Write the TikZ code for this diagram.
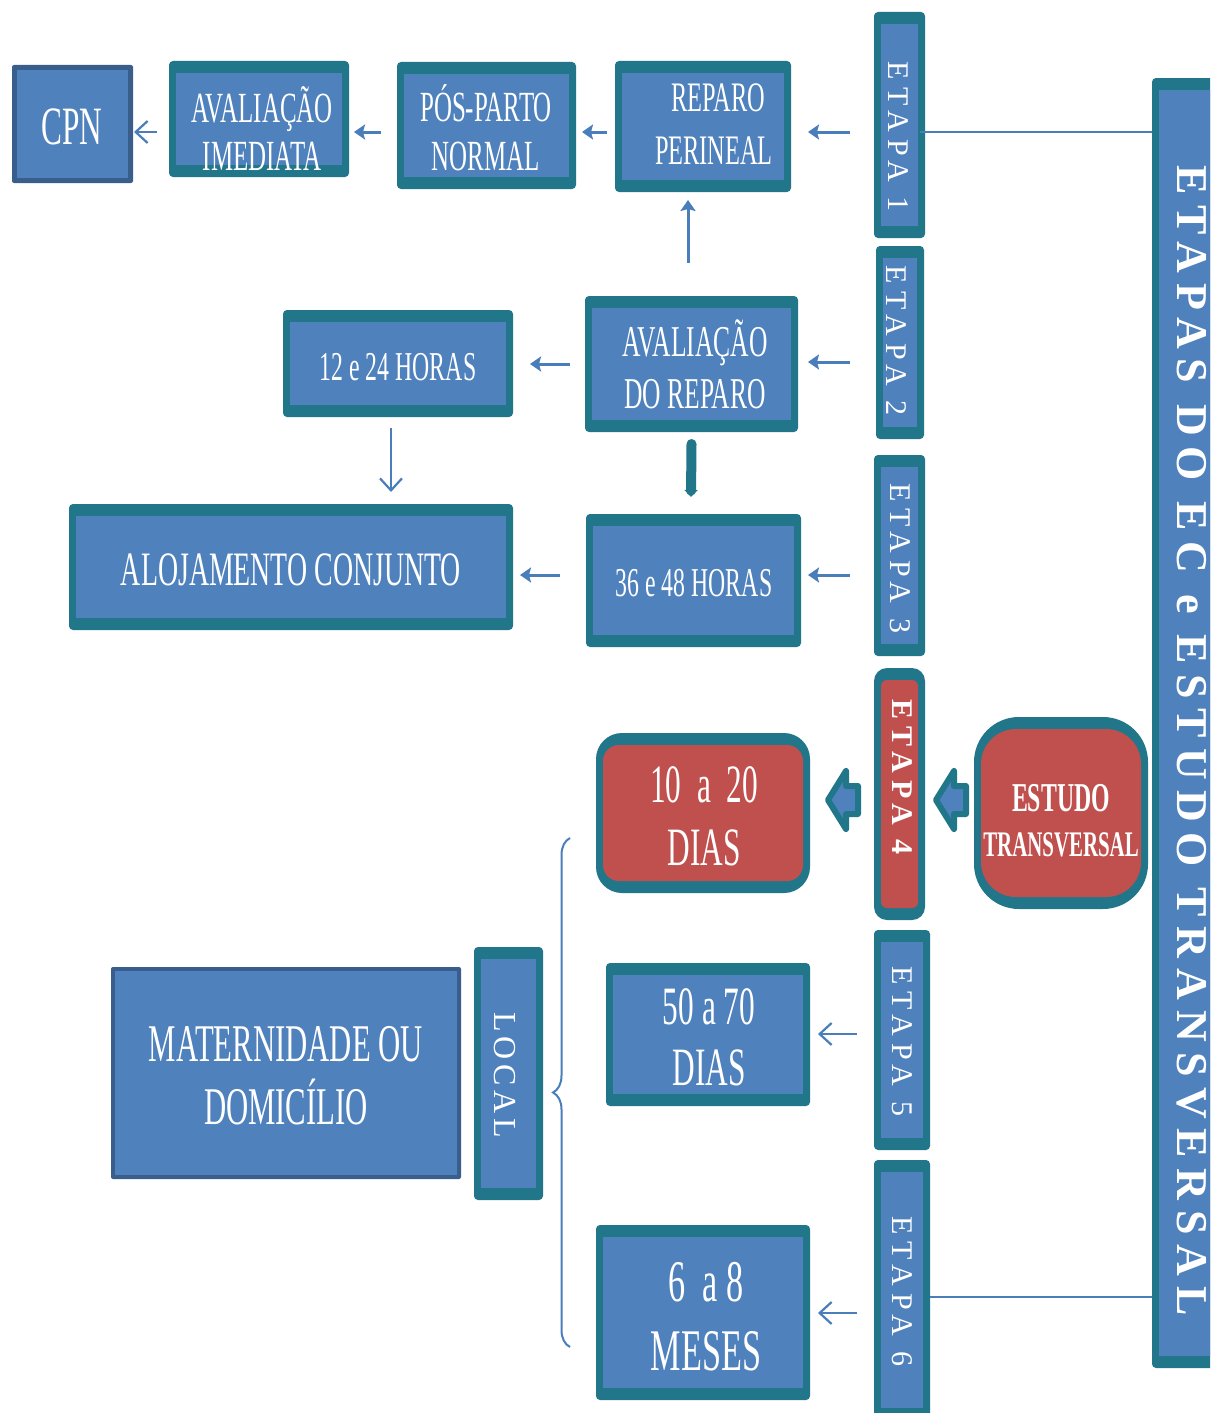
\documentclass[tikz,border=0pt]{standalone}
\usepackage{fontspec}
\setmainfont{Liberation Serif}
\newfontfamily\cond[FakeStretch=0.58]{Liberation Serif}
\newfontfamily\spc[LetterSpace=24]{Liberation Serif}
\newfontfamily\spcb[LetterSpace=23]{Liberation Serif}
\newfontfamily\spcl[LetterSpace=15]{Liberation Serif}
\usetikzlibrary{arrows.meta,calc,decorations.pathreplacing}
\definecolor{boxblue}{HTML}{4F81BD}
\definecolor{tealc}{HTML}{22768A}
\definecolor{redc}{HTML}{C0504D}
\definecolor{darkc}{HTML}{3A5E8C}
\definecolor{arrc}{HTML}{4A7EBB}
\tikzset{
  tbox/.style={fill=tealc, rounded corners=4pt, inner sep=0pt, outer sep=0pt,
    path picture={\fill[boxblue, sharp corners] ([xshift=7pt,yshift=-12pt]path picture bounding box.north west) rectangle ([xshift=-7pt,yshift=12pt]path picture bounding box.south east);}},
  rbox/.style 2 args={fill=tealc, rounded corners=#1pt, inner sep=0pt, outer sep=0pt,
    path picture={\fill[redc, rounded corners=#2pt] ([xshift=7pt,yshift=-12pt]path picture bounding box.north west) rectangle ([xshift=-7pt,yshift=12pt]path picture bounding box.south east);}},
  dbox/.style={fill=darkc, rounded corners=2pt, inner sep=0pt, outer sep=0pt,
    path picture={\fill[boxblue, sharp corners] ([xshift=#1pt,yshift=-#1pt]path picture bounding box.north west) rectangle ([xshift=-#1pt,yshift=#1pt]path picture bounding box.south east);}},
  sz/.style 2 args={minimum width=#1pt, minimum height=#2pt},
  lbl/.style={text=white, align=center, inner sep=0pt},
  etl/.style={lbl, rotate=-90, font=\spc\fontsize{30}{30}\selectfont},
  arr/.style={draw=arrc, line width=3pt, -{Stealth[length=11pt,width=15pt,inset=2pt]}},
  oarr/.style={draw=arrc, line width=2.2pt, -{Straight Barb[length=12pt,width=22pt]}},
  ln/.style={draw=arrc, line width=2pt},
  barr/.style={draw=tealc, fill=boxblue, line width=6pt, line join=round},
}
\begin{document}
\begin{tikzpicture}[x=1pt,y=-1pt]
\useasboundingbox (0,0) rectangle (1210,1413);
\clip (0,0) rectangle (1210,1413);
\fill[white] (0,0) rectangle (1210,1413);

% ---- top row
\node[dbox=5, sz={121}{118}] (cpn) at (72.5,124) {};
\node[lbl, font=\cond\fontsize{54}{54}\selectfont] (cpnt) at (72,127) {CPN};
\node[tbox, sz={180}{116}] (avim) at (259,119) {};
\node[lbl, font=\cond\fontsize{43}{48}\selectfont] (avimt) at (262,129) {AVALIAÇÃO\\IMEDIATA};
\node[tbox, sz={179}{127}] (pos) at (486.5,125.5) {};
\node[lbl, font=\cond\fontsize{43}{49}\selectfont] (post) at (486,128) {PÓS-PARTO\\NORMAL};
\node[tbox, sz={176}{131}] (rep) at (703,126.5) {};
\node[lbl, font=\cond\fontsize{42}{53}\selectfont] (rept) at (714,124) {\hspace*{8pt}REPARO\\PERINEAL};

% ---- etapa column
\node[tbox, sz={51}{226}] (et1) at (899.5,125) {};
\node[etl] (et1t) at (898,137) {ETAPA 1};
\node[tbox, sz={48}{193}] (et2) at (900,342.5) {};
\node[etl] (et2t) at (896,341) {ETAPA 2};
\node[tbox, sz={51}{201}] (et3) at (899.5,555.5) {};
\node[etl] (et3t) at (900,558) {ETAPA 3};
\node[rbox={13}{6}, sz={51}{252}] (et4) at (899.5,794) {};
\node[etl, font=\spc\bfseries\fontsize{30}{30}\selectfont] (et4t) at (902,777) {ETAPA 4};
\node[tbox, sz={56}{220}] (et5) at (902,1040) {};
\node[etl] (et5t) at (902,1041) {ETAPA 5};
\node[tbox, sz={56}{260}] (et6) at (902,1290) {};
\node[etl] (et6t) at (902,1291) {ETAPA 6};

% ---- big vertical box
\node[tbox, sz={80}{1290}] (big) at (1192,723) {};
\node[lbl, rotate=-90, font=\spcb\bfseries\fontsize{44}{44}\selectfont] (bigt) at (1192,741) {ETAPAS DO EC e ESTUDO TRANSVERSAL};

% ---- middle
\node[tbox, sz={213}{136}] (avrep) at (691.5,364) {};
\node[lbl, font=\cond\fontsize{44}{52}\selectfont] (avrept) at (695,364) {AVALIAÇÃO\\DO REPARO};
\node[tbox, sz={230}{107}] (h1224) at (398,363.5) {};
\node[lbl, font=\cond\fontsize{41}{41}\selectfont] (h1224t) at (398,367) {12 e 24 HORAS};
\node[tbox, sz={444}{126}] (aloj) at (291,567) {};
\node[lbl, font=\cond\fontsize{48}{48}\selectfont] (alojt) at (291,570) {ALOJAMENTO CONJUNTO};
\node[tbox, sz={215}{133}] (h3648) at (693.5,580.5) {};
\node[lbl, font=\cond\fontsize{41}{41}\selectfont] (h3648t) at (694,583) {36 e 48 HORAS};

% ---- red row
\node[rbox={26}{16}, sz={214}{160}] (d1020) at (703,813) {};
\node[lbl, font=\cond\fontsize{54}{63}\selectfont] (d1020t) at (704,816) {10\ \ a\ \ 20\\DIAS};
\node[rbox={45}{35}, sz={174}{192}] (estudo) at (1061,813) {};
\node[lbl, font=\cond\bfseries\fontsize{36}{45}\selectfont] (estudot) at (1061,821) {{\fontsize{41}{45}\selectfont ESTUDO}\\TRANSVERSAL};

% ---- bottom
\node[tbox, sz={204}{143}] (d5070) at (708,1034.5) {};
\node[lbl, font=\cond\fontsize{54}{61}\selectfont] (d5070t) at (709,1037) {50 a 70\\DIAS};
\node[tbox, sz={214}{175}] (m68) at (703,1312.5) {};
\node[lbl, font=\cond\fontsize{59}{69}\selectfont] (m68t) at (706,1317) {6\ \ a 8\\MESES};
\node[tbox, sz={69}{253}] (local) at (508.5,1073.5) {};
\node[lbl, rotate=-90, font=\spcl\fontsize{32}{32}\selectfont] (localt) at (505,1075) {LOCAL};
\node[dbox=4, sz={350}{212}] (mat) at (286,1073) {};
\node[lbl, font=\cond\fontsize{53}{63}\selectfont] (matt) at (286,1076) {MATERNIDADE OU\\DOMICÍLIO};

% ---- connectors
\draw[arr] ($(et1.west)+(-24,7)$) -- ($(rep.east)+(17,5.5)$);
\draw[arr] ($(rep.west)+(-8,5.5)$) -- ($(pos.east)+(6,6.5)$);
\draw[arr] ($(pos.west)+(-16,6.5)$) -- ($(avim.east)+(5,13)$);
\draw[oarr] ($(avim.west)+(-12,13)$) -- ($(cpn.east)+(1,8)$);
\draw[arr] ($(avrep.north)+(-3.5,-33)$) -- ($(rep.south)+(-15,8)$);
\draw[arr] ($(et2.west)+(-26,19.5)$) -- ($(avrep.east)+(10,-2)$);
\draw[arr] ($(avrep.west)+(-15,0)$) -- ($(h1224.east)+(17,0.5)$);
\draw[oarr] ($(h1224.south)+(-7,11)$) -- ($(aloj.north east)+(-122,-12)$);
\draw[draw=tealc, line width=10pt, line cap=round, -{Triangle[length=7pt,width=13pt]}] ($(avrep.south)+(0,12)$) -- ($(h3648.north)+(-2.5,-17)$);
\draw[arr] ($(et3.west)+(-24,19.5)$) -- ($(h3648.east)+(7,-5.5)$);
\draw[arr] ($(h3648.west)+(-26,-5.5)$) -- ($(aloj.east)+(7,8)$);
\draw[oarr] ($(et5.west)+(-17,-6)$) -- ($(d5070.east)+(8,-0.5)$);
\draw[oarr] ($(et6.west)+(-17,23)$) -- ($(m68.east)+(8,0.5)$);

% block arrows
\draw[barr] ($(d1020.east)+(18,-13)$) -- ++(18,-29) -- ++(0,15) -- ++(12,0) -- ++(0,28) -- ++(-12,0) -- ++(0,15) -- cycle;
\draw[barr] ($(et4.east)+(11,6)$) -- ++(18,-29) -- ++(0,15) -- ++(12,0) -- ++(0,28) -- ++(-12,0) -- ++(0,15) -- cycle;

% lines to big box
\coordinate (l1) at ($(et1.east)+(-5,7)$);
\draw[ln] (l1) -- (l1 -| big.west);
\coordinate (l6) at ($(et6.east)+(0,7)$);
\draw[ln] (l6) -- (l6 -| big.west);

% brace
\coordinate (brb) at (570,1347);
\coordinate (brt) at (570,838);
\draw[draw=arrc, line width=2pt, decorate, decoration={brace, amplitude=17pt}] (brb) -- (brt);
\end{tikzpicture}
\end{document}
